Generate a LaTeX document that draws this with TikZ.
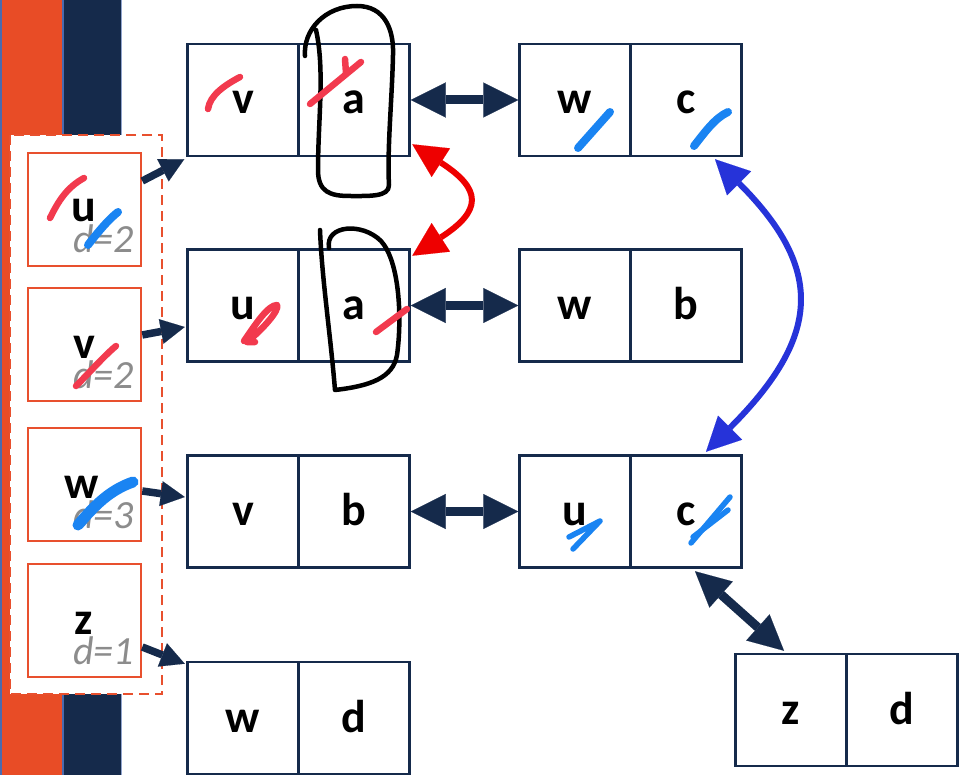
\documentclass[tikz,border=0pt]{standalone}
\usepackage{fontspec}
\setmainfont{Carlito}
\usetikzlibrary{arrows.meta,calc}

\definecolor{navy}{HTML}{152A4B}
\definecolor{barorange}{HTML}{E84C26}
\definecolor{baredge}{HTML}{4A6AAE}
\definecolor{boxorange}{HTML}{E8502E}
\definecolor{linkred}{HTML}{EE0000}
\definecolor{linkblue}{HTML}{2633D9}
\definecolor{inkblue}{HTML}{1A84F2}
\definecolor{inkred}{HTML}{F23A4E}
\definecolor{dgray}{HTML}{8C8C8C}

\tikzset{
  cell/.style={draw=navy, line width=2.5pt, minimum width=111pt, minimum height=112pt,
    inner sep=0pt, text height=28pt, text depth=0pt,
    font=\fontsize{46}{50}\selectfont\bfseries},
  qbox/.style={draw=boxorange, line width=2.5pt, fill=white, minimum width=113pt,
    minimum height=113pt, inner sep=0pt},
  vname/.style={anchor=base, inner sep=0pt, text depth=0pt,
    font=\fontsize{46}{50}\selectfont\bfseries},
  dist/.style={anchor=base east, inner sep=0pt, text=dgray, text height=24pt, text depth=0pt,
    font=\fontsize{40}{44}\selectfont\itshape},
  dbl/.style={navy, line width=9pt,
    {Triangle[length=35pt,width=35pt,line width=0.1pt]}-{Triangle[length=35pt,width=35pt,line width=0.1pt]}},
  ptr/.style={navy, line width=7.5pt, -{Triangle[length=24pt,width=25pt,line width=0.1pt]}},
  redlink/.style={linkred, line width=6pt,
    {Triangle[length=34pt,width=34pt,line width=0.1pt]}-{Triangle[length=34pt,width=34pt,line width=0.1pt]}},
  bluelink/.style={linkblue, line width=6pt,
    {Triangle[length=34pt,width=34pt,line width=0.1pt]}-{Triangle[length=34pt,width=34pt,line width=0.1pt]}},
  pen/.style={black, line width=4.5pt, line cap=round, line join=round},
  inkr/.style={inkred, line width=6.5pt, line cap=round, line join=round},
  inkb/.style={inkblue, line width=7pt, line cap=round, line join=round},
}

\begin{document}
\begin{tikzpicture}[x=1pt,y=-1pt]
  \useasboundingbox (0,0) rectangle (960,775);

  % side bars
  \fill[barorange] (0,0) rectangle (62,775);
  \fill[navy] (62,0) rectangle (122,775);
  \draw[baredge, line width=1.5pt] (0.75,0) -- (0.75,775);
  \draw[baredge, line width=1.5pt] (63,0) -- (63,775);
  \draw[baredge!60, line width=1.5pt] (121.5,0) -- (121.5,775);

  % queue frame
  \draw[boxorange, line width=2pt, fill=white, dash pattern=on 10pt off 6pt]
    (10,135) rectangle (162,694);

  % queue entries
  \node[qbox] (ub) at (84.5,209.5) {};
  \node[qbox] (vb) at (84.5,344.5) {};
  \node[qbox] (wb) at (84.5,484.5) {};
  \node[qbox] (zb) at (84.5,620.5) {};
  \node[vname] (ut) at (84,222) {u};
  \node[dist] (ud) at (134,253) {d=2};
  \node[vname] (vt) at (84,358) {v};
  \node[dist] (vd) at (134,388) {d=2};
  \node[vname] (wt) at (82,498) {w};
  \node[dist] (wd) at (134,528) {d=3};
  \node[vname] (zt) at (84,634) {z};
  \node[dist] (zd) at (134,664) {d=1};

  % edge records
  \node[cell] (v1) at (243,100) {v};
  \node[cell] (a1) at (354,100) {a};
  \node[cell] (w1) at (575,100) {w};
  \node[cell] (c1) at (686,100) {c};
  \node[cell] (u2) at (243,305.5) {u};
  \node[cell] (a2) at (354,305.5) {a};
  \node[cell] (w2) at (575,305.5) {w};
  \node[cell] (b2) at (686,305.5) {b};
  \node[cell] (v3) at (243,511.5) {v};
  \node[cell] (b3) at (354,511.5) {b};
  \node[cell] (u3) at (575,511.5) {u};
  \node[cell] (c3) at (686,511.5) {c};
  \node[cell] (w4) at (243,718) {w};
  \node[cell] (d4) at (354,718) {d};
  \node[cell] (z5) at (791,710) {z};
  \node[cell] (d5) at (902,710) {d};

  % twin links
  \draw[dbl] (a1.east) -- (w1.west);
  \draw[dbl] (a2.east) -- (w2.west);
  \draw[dbl] (b3.east) -- (u3.west);
  \draw[dbl] ([xshift=9pt,yshift=-2.5pt]c3.south) -- ([xshift=-7pt,yshift=2pt]z5.north);

  % pointers from the queue
  \draw[ptr] ([yshift=28.5pt]ub.east) -- ([xshift=-2pt,yshift=-2pt]v1.south west);
  \draw[ptr] ([yshift=9.5pt]vb.east) -- ([xshift=-1.5pt,yshift=-21.5pt]u2.west);
  \draw[ptr] ([yshift=-6.5pt]wb.east) -- ([xshift=-1.5pt,yshift=14.5pt]v3.west);
  \draw[ptr] ([yshift=-26.5pt]zb.east) -- ([xshift=-1.5pt,yshift=-3pt]w4.north west);

  % curved links
  \draw[redlink] ([xshift=1.5pt,yshift=13pt]a1.south east)
    .. controls +(70,45) and +(70,-45) .. ([xshift=1.5pt,yshift=-7.5pt]a2.north east);
  \draw[bluelink] ([xshift=29pt,yshift=-2pt]c1.south)
    .. controls +(110,110) and +(115,-115) .. ([xshift=20pt,yshift=2.5pt]c3.north);

  % hand-drawn loops
  \draw[pen] (305,56) .. controls (303,30) and (325,6) .. (357,6)
    .. controls (385,6) and (394,30) .. (393,55)
    .. controls (392,100) and (387,150) .. (389,185)
    .. controls (389,197) and (370,196) .. (350,196)
    .. controls (330,196) and (318,192) .. (318,170)
    .. controls (318,120) and (325,70) .. (316,30);
  \draw[pen] (329,248) .. controls (325,225) and (362,222) .. (381,241)
    .. controls (400,262) and (402,320) .. (397,355)
    .. controls (393,378) and (370,386) .. (335,390)
    .. controls (330,330) and (322,280) .. (320,230);

  % red strikes
  \draw[inkr] (50,218) .. controls (58,202) and (66,188) .. (84,178);
  \draw[inkr] (76,386) .. controls (90,372) and (104,356) .. (116,346);
  \draw[inkr] (208,109) .. controls (210,95) and (225,85) .. (240,77);
  \draw[inkr] (310,104) -- (361,62);
  \draw[inkr] (346,73) -- (345,59);
  \draw[inkr] (244,341) .. controls (255,325) and (268,305) .. (277,305)
    .. controls (280,310) and (262,330) .. (247,342) -- (255,342);
  \draw[inkr] (376,332) -- (407,309);

  % blue strikes
  \draw[inkb, line width=8pt] (88,245) .. controls (98,232) and (108,220) .. (118,212);
  \draw[inkb, line width=11pt] (78,525) .. controls (95,505) and (110,490) .. (133,482);
  \draw[inkb, line width=8pt] (578,148) -- (610,112);
  \draw[inkb, line width=8pt] (694,146) .. controls (705,132) and (715,118) .. (728,112);
  \draw[inkb, line width=5.5pt] (569,537) -- (600,521) -- (573,549);
  \draw[inkb, line width=5.5pt] (691,543) -- (730,497);
  \draw[inkb, line width=5.5pt] (693,537) -- (728,510);
\end{tikzpicture}
\end{document}
